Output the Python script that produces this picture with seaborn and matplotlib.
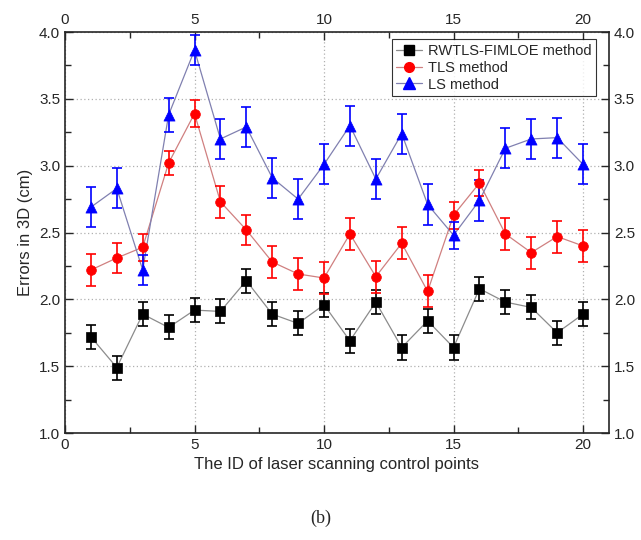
import matplotlib
matplotlib.use("Agg")
import matplotlib.pyplot as plt
import seaborn as sns
import pandas as pd
from matplotlib.lines import Line2D
from matplotlib.ticker import MultipleLocator

ids = list(range(1, 21))
rwtls = [1.72, 1.49, 1.89, 1.79, 1.92, 1.91, 2.14, 1.89, 1.82, 1.96,
         1.69, 1.98, 1.64, 1.84, 1.64, 2.08, 1.98, 1.94, 1.75, 1.89]
rwtls_err = [0.09, 0.09, 0.09, 0.09, 0.09, 0.09, 0.09, 0.09, 0.09, 0.09,
             0.09, 0.09, 0.09, 0.09, 0.09, 0.09, 0.09, 0.09, 0.09, 0.09]
tls = [2.22, 2.31, 2.39, 3.02, 3.39, 2.73, 2.52, 2.28, 2.19, 2.16,
       2.49, 2.17, 2.42, 2.06, 2.63, 2.87, 2.49, 2.35, 2.47, 2.40]
tls_err = [0.12, 0.11, 0.10, 0.09, 0.10, 0.12, 0.11, 0.12, 0.12, 0.12,
           0.12, 0.12, 0.12, 0.12, 0.10, 0.10, 0.12, 0.12, 0.12, 0.12]
ls = [2.69, 2.83, 2.22, 3.38, 3.865, 3.20, 3.29, 2.91, 2.75, 3.01,
      3.30, 2.90, 3.24, 2.71, 2.48, 2.74, 3.13, 3.20, 3.21, 3.01]
ls_err = [0.15, 0.15, 0.11, 0.13, 0.11, 0.15, 0.15, 0.15, 0.15, 0.15,
          0.15, 0.15, 0.15, 0.15, 0.10, 0.15, 0.15, 0.15, 0.15, 0.15]
labels = ["RWTLS-FIMLOE method", "TLS method", "LS method"]

sns.set_style("ticks")
plt.rcParams['font.family'] = ['Liberation Sans', 'DejaVu Sans']

fig = plt.figure(figsize=(6.41, 5.40), dpi=100)
ax = fig.add_axes([0.1014, 0.198, 0.8486, 0.7427])

series = [
    (rwtls, rwtls_err, labels[0], 'black', '#8c8c8c', 's', 6.5),
    (tls, tls_err, labels[1], 'red', '#d08080', 'o', 7.0),
    (ls, ls_err, labels[2], 'blue', '#8080b0', '^', 8.0),
]
handles = []
for vals, errs, lab, col, lcol, mk, ms in series:
    df = pd.DataFrame({"id": ids, "val": vals})
    sns.lineplot(data=df, x="id", y="val", ax=ax, color=lcol, lw=0.9,
                 zorder=2, legend=False)
    ax.errorbar(ids, vals, yerr=errs, fmt='none', ecolor=col, elinewidth=1.2,
                capsize=3.5, capthick=1.2, zorder=3)
    sns.scatterplot(data=df, x="id", y="val", ax=ax, color=col, marker=mk,
                    s=ms ** 2, edgecolor=col, linewidth=0.5, zorder=4,
                    legend=False)
    handles.append(Line2D([0], [0], color=lcol, lw=0.9, marker=mk,
                          markerfacecolor=col, markeredgecolor=col,
                          markersize=ms))

ax.set_xlim(0, 21)
ax.set_ylim(1.0, 4.0)
ax.xaxis.set_major_locator(MultipleLocator(5))
ax.xaxis.set_minor_locator(MultipleLocator(2.5))
ax.yaxis.set_major_locator(MultipleLocator(0.5))
ax.yaxis.set_minor_locator(MultipleLocator(0.25))
ax.grid(True, which='major', color='#b0b0b0', linestyle=(0, (1, 2)), lw=0.9)
ax.tick_params(which='both', direction='in', top=True, right=True,
               labeltop=True, labelright=True, labelsize=11, width=1.0)
ax.tick_params(which='major', length=6)
ax.tick_params(which='minor', length=4)
for s in ax.spines.values():
    s.set_linewidth(1.2)
    s.set_visible(True)
ax.set_xlabel("The ID of laser scanning control points", fontsize=12)
ax.set_ylabel("Errors in 3D (cm)", fontsize=12)

leg = ax.legend(handles, labels, loc='upper right', fontsize=10.5,
                frameon=True, fancybox=False, edgecolor='black',
                borderpad=0.3, labelspacing=0.2, handlelength=1.8,
                handletextpad=0.4, bbox_to_anchor=(0.99, 1.0))
leg.get_frame().set_linewidth(0.8)

fig.text(0.5, 0.04, "(b)", ha='center', va='center', fontsize=13,
         family=['Liberation Serif', 'DejaVu Serif'])

fig.savefig("out.png", dpi=100)
